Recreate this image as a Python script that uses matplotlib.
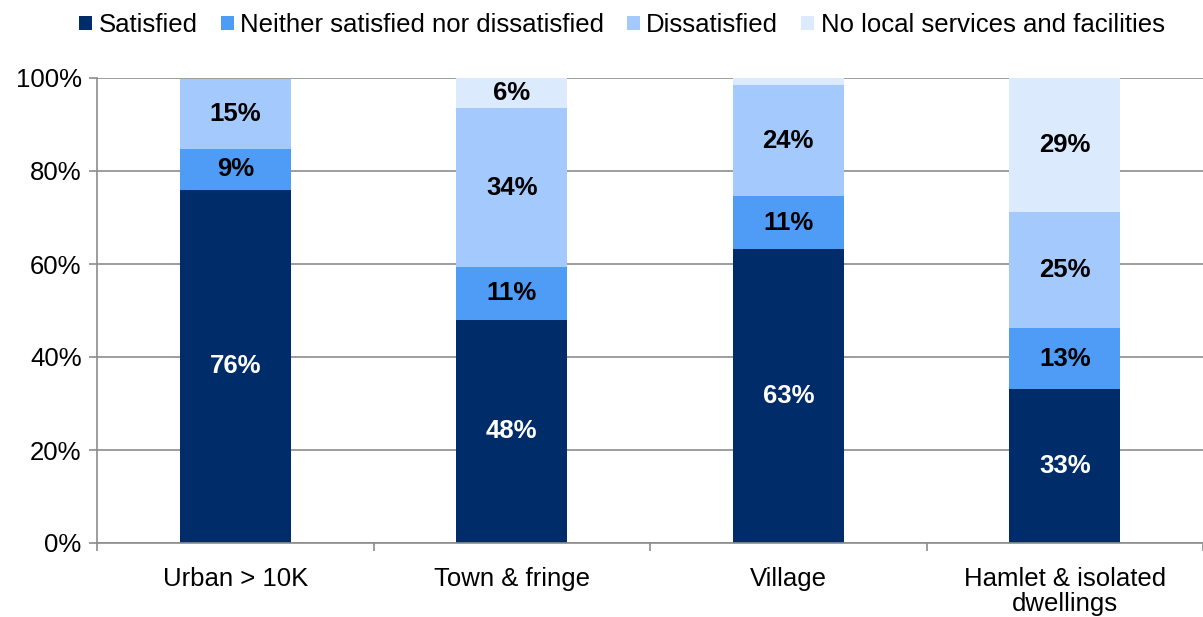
import matplotlib.pyplot as plt
import numpy as np

plt.rcParams['font.family'] = ['Liberation Sans', 'DejaVu Sans']

categories = ['Urban > 10K', 'Town & fringe', 'Village', 'Hamlet & isolated\ndwellings']
series_names = ['Satisfied', 'Neither satisfied nor dissatisfied', 'Dissatisfied',
                'No local services and facilities']
satisfied = [76.0, 48.0, 63.2, 33.1]
neither = [8.8, 11.4, 11.4, 13.1]
dissatisfied = [15.0, 34.1, 23.9, 25.0]
no_local = [0.0, 6.5, 1.5, 28.8]
colors = ['#002D6A', '#4F9CF6', '#A4C9FC', '#DCEAFD']
label_colors = ['white', 'black', 'black', 'black']

fs = 18.5

fig = plt.figure(figsize=(12.03, 6.17), dpi=100)
ax = fig.add_axes([97 / 1203, 1 - 543 / 617, 1 - 97 / 1203, 465 / 617])

x = np.arange(len(categories))
bottom = np.zeros(len(categories))
for name, vals, col, lc in zip(series_names, [satisfied, neither, dissatisfied, no_local],
                               colors, label_colors):
    vals = np.array(vals)
    ax.bar(x, vals, width=0.4, bottom=bottom, color=col, label=name, zorder=2)
    for xi, b, v in zip(x, bottom, vals):
        if v >= 5:
            ax.text(xi, b + v / 2, f'{v:.0f}%', ha='center', va='center',
                    fontsize=fs, fontweight='bold', color=lc, zorder=3)
    bottom += vals

ax.set_xlim(-0.5, len(categories) - 0.5)
ax.set_ylim(0, 100)
ax.set_yticks(range(0, 101, 20))
ax.set_yticklabels([f'{v}%' for v in range(0, 101, 20)], fontsize=fs)
ax.set_xticks(x)
ax.set_xticklabels(categories, fontsize=fs, linespacing=1.05)
ax.set_xticks(np.arange(-0.5, len(categories) - 0.4, 1), minor=True)
ax.tick_params(axis='x', which='major', length=0, pad=17)
ax.tick_params(axis='x', which='minor', length=6, color='#8c8c8c', width=1.2)
ax.tick_params(axis='y', length=6, color='#8c8c8c', width=1.2, pad=5)
ax.yaxis.grid(True, color='#8c8c8c', linewidth=1.2, zorder=0)
ax.set_axisbelow(True)

for s in ['top', 'right']:
    ax.spines[s].set_visible(False)
for s in ['left', 'bottom']:
    ax.spines[s].set_color('#8c8c8c')
    ax.spines[s].set_linewidth(1.2)

fig.legend(loc='center', bbox_to_anchor=(622 / 1203, 1 - 25 / 617), ncol=4,
           frameon=False, fontsize=fs, handlelength=0.5, handleheight=0.5,
           handletextpad=0.25, columnspacing=0.9)

fig.savefig('out.png', dpi=100)
